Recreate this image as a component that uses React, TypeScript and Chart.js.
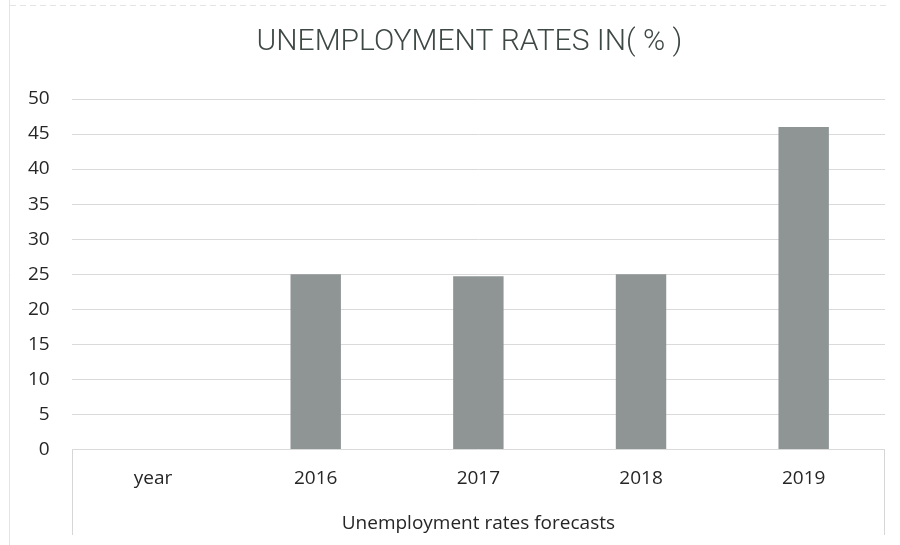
import React, { useEffect, useRef } from "react";
import { Chart, registerables } from "chart.js";

Chart.register(...registerables);

const categories = ["year", "2016", "2017", "2018", "2019"];
const rates = [null, 25, 24.7, 25, 46];
const chartTitle = "UNEMPLOYMENT RATES IN( % )";
const xAxisTitle = "Unemployment rates forecasts";

const framePlugin = {
  id: "frameLines",
  beforeDraw(chart: any) {
    const { ctx, chartArea, height, width } = chart;
    ctx.save();
    ctx.strokeStyle = "#d6d6d6";
    ctx.lineWidth = 1;
    ctx.beginPath();
    const l = Math.round(chartArea.left) + 0.5;
    const r = Math.round(chartArea.right) - 0.5;
    ctx.moveTo(l, chartArea.bottom);
    ctx.lineTo(l, height - 10);
    ctx.moveTo(r, chartArea.bottom);
    ctx.lineTo(r, height - 10);
    ctx.stroke();
    ctx.strokeStyle = "#e4e4e4";
    ctx.beginPath();
    ctx.moveTo(9.5, 0);
    ctx.lineTo(9.5, height);
    ctx.stroke();
    ctx.setLineDash([6, 4]);
    ctx.beginPath();
    ctx.moveTo(10, 5.5);
    ctx.lineTo(width - 10, 5.5);
    ctx.stroke();
    ctx.restore();
  },
  afterDraw(chart: any) {
    const { ctx, chartArea } = chart;
    ctx.save();
    ctx.fillStyle = "#3e4844";
    ctx.font = "300 30px Roboto";
    ctx.textAlign = "center";
    ctx.textBaseline = "middle";
    ctx.fillText(chartTitle, (chartArea.left + chartArea.right) / 2 - 9, 42);
    ctx.restore();
  },
};

export default function App() {
  const ref = useRef<HTMLCanvasElement | null>(null);
  useEffect(() => {
    if (!ref.current) return;
    const chart = new Chart(ref.current, {
      type: "bar",
      data: {
        labels: categories,
        datasets: [
          {
            data: rates as any,
            backgroundColor: "#8f9595",
            borderWidth: 0,
            barPercentage: 0.31,
            categoryPercentage: 1,
          },
        ],
      },
      options: {
        animation: false,
        responsive: false,
        maintainAspectRatio: false,
        layout: { padding: { left: 6, right: 15, top: 99, bottom: 10 } },
        plugins: {
          legend: { display: false },
          tooltip: { enabled: false },
          title: { display: false },
        },
        scales: {
          y: {
            min: 0,
            max: 50,
            ticks: {
              stepSize: 5,
              color: "#262626",
              padding: 22,
              font: { family: "Open Sans", size: 19 },
            },
            grid: { color: "#dadada", drawTicks: false },
            border: { display: false },
          },
          x: {
            grid: { display: false },
            border: { display: false },
            ticks: {
              color: "#262626",
              padding: 10,
              font: { family: "Open Sans", size: 19 },
            },
            title: {
              display: true,
              text: xAxisTitle,
              color: "#262626",
              font: { family: "Open Sans", size: 19 },
              padding: { top: 12, bottom: 0 },
            },
          },
        },
      },
      plugins: [framePlugin],
    });
    return () => chart.destroy();
  }, []);
  return (
    <div style={{ position: "fixed", left: 0, top: 0, width: 900, height: 545, background: "#fff" }}>
      <canvas ref={ref} width={900} height={545} style={{ display: "block" }} />
    </div>
  );
}
